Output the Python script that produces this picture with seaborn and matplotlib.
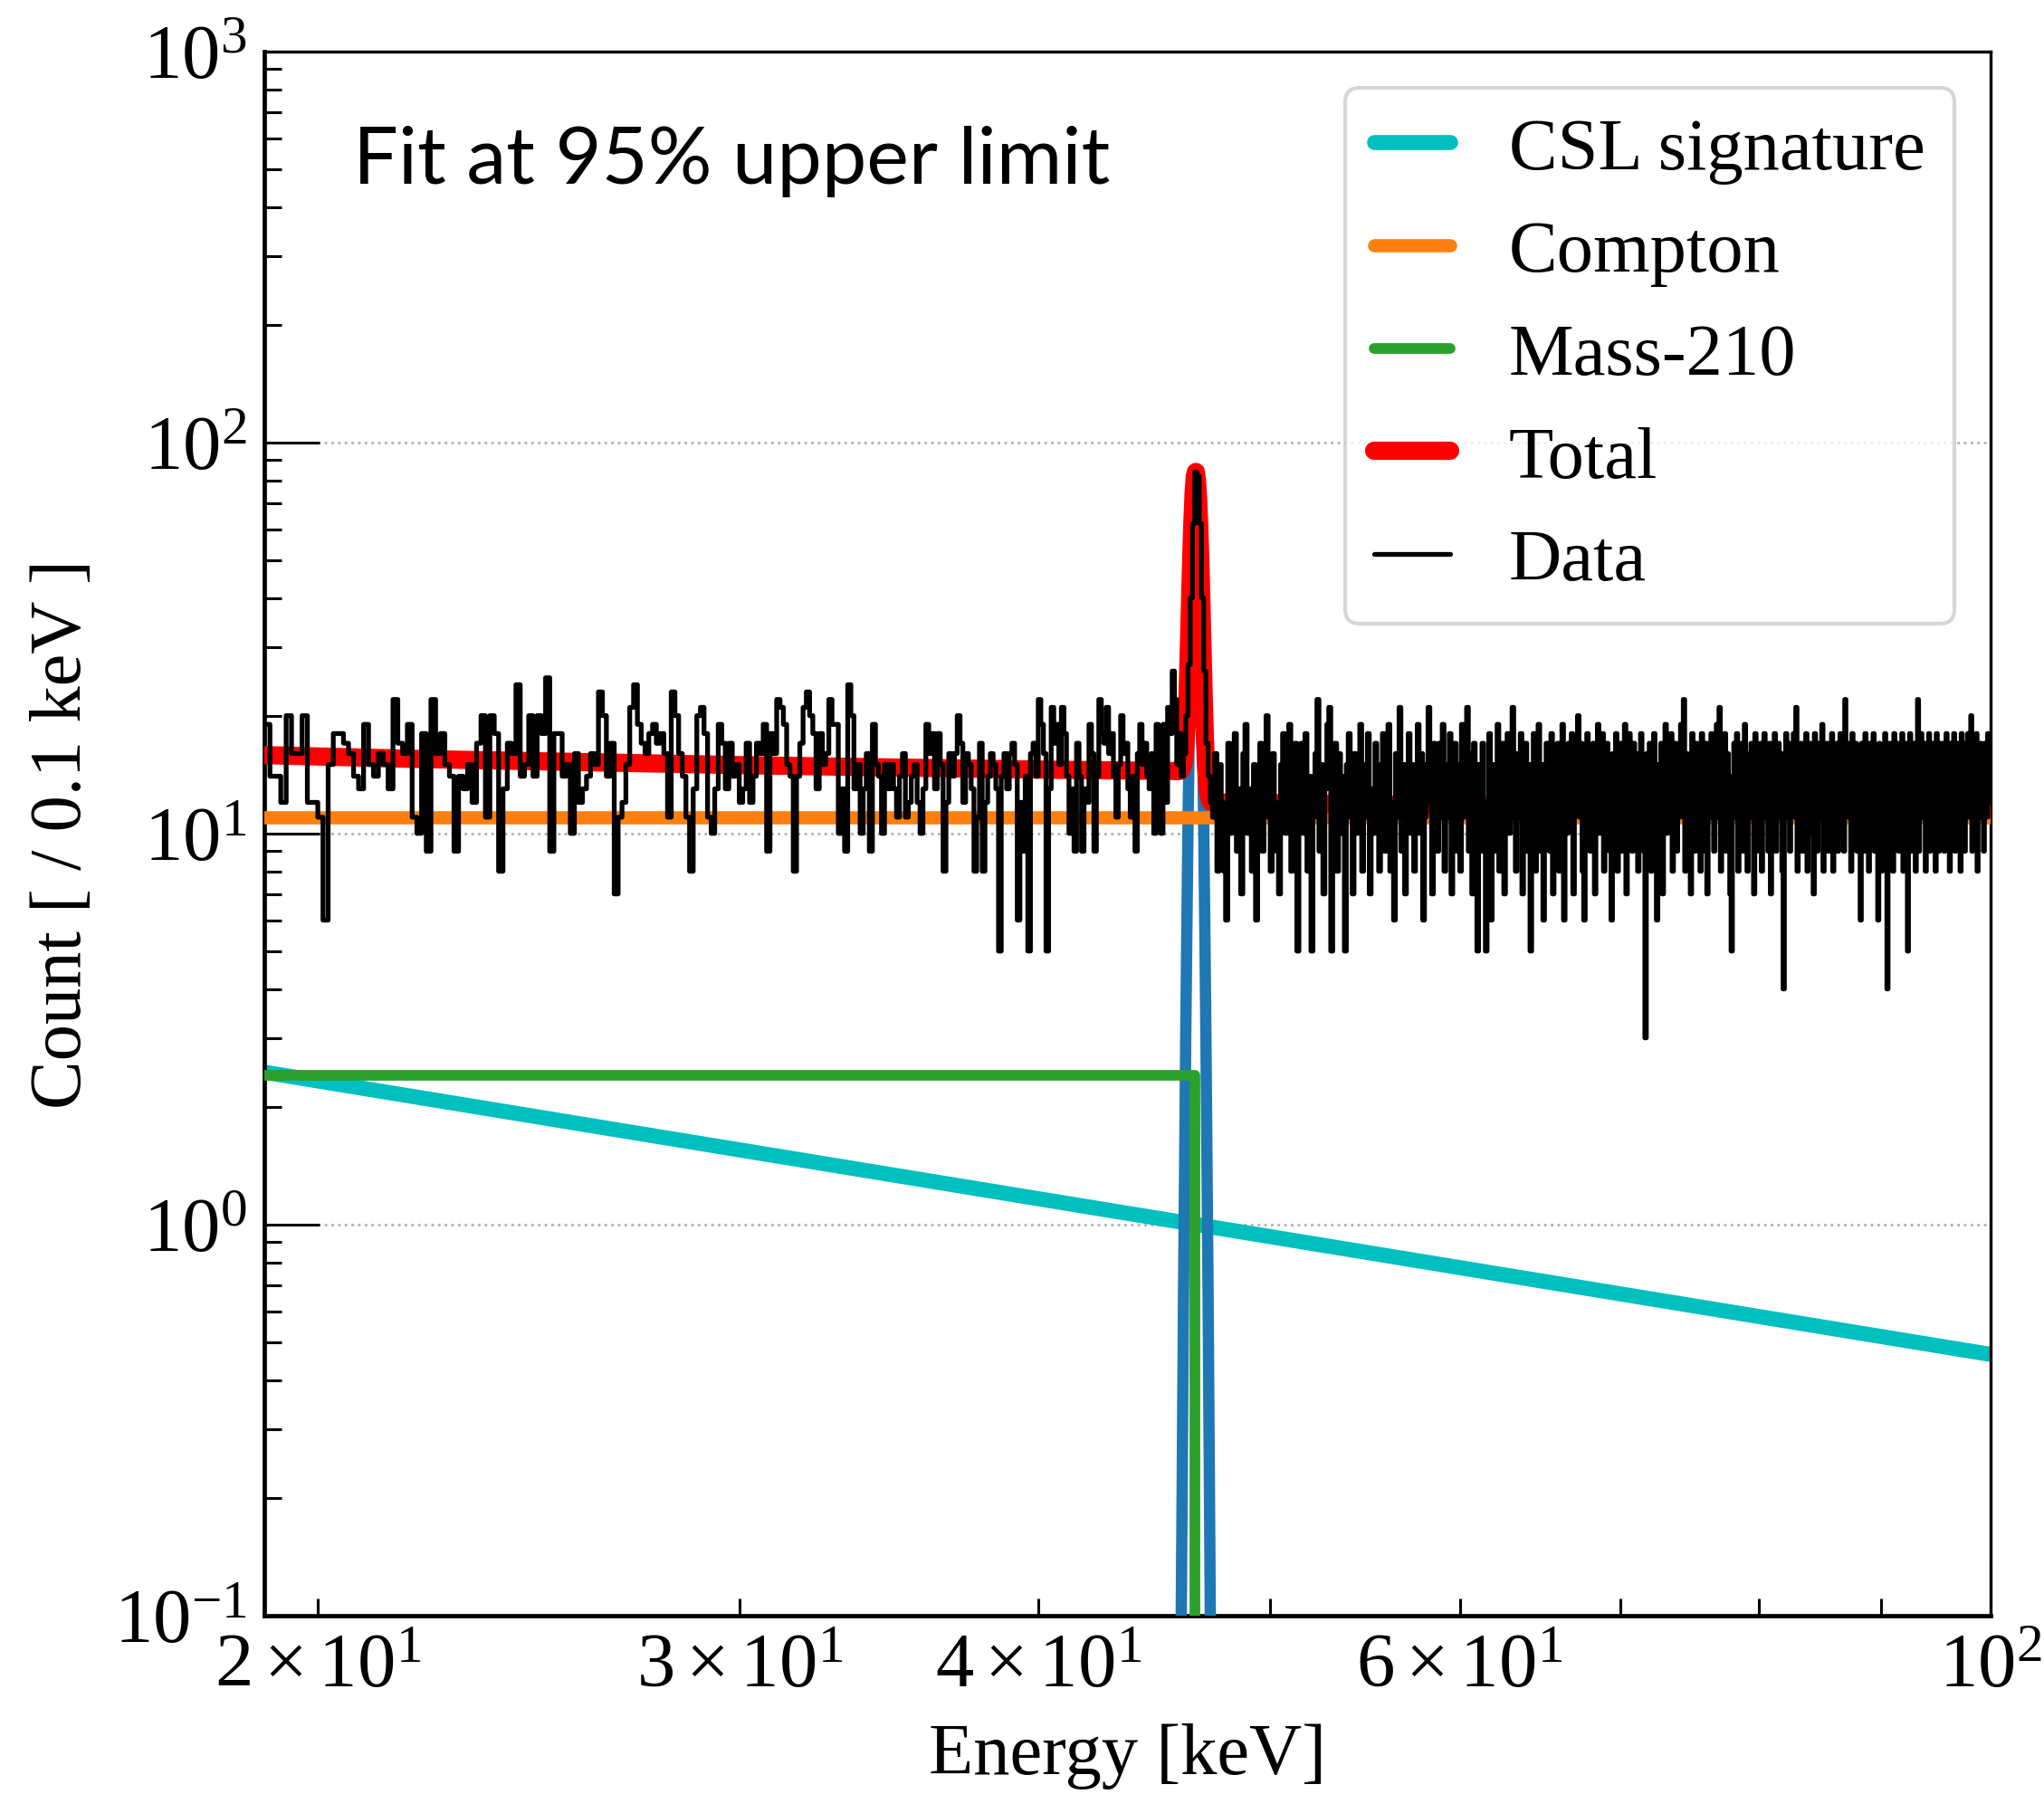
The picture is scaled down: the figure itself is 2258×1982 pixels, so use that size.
import numpy as np
import matplotlib
matplotlib.use("Agg")
import matplotlib.pyplot as plt
import seaborn as sns

# =========================
# DATA
# =========================

bin_start = 19.0   # keV, lower edge of first bin
bin_width = 0.1    # keV

# counts per 0.1 keV bin, split by energy range
counts_19_25 = [
    19, 14, 14, 12, 20, 16, 16, 20, 12, 12, 11, 6, 15, 18, 18, 17, 16, 14, 13, 19,
    15, 14, 16, 15, 13, 22, 17, 16, 19, 11, 10, 18, 9, 22, 16, 18, 15, 14, 9, 14,
    13, 15, 12, 17, 20, 11, 20, 18, 8, 13, 17, 16, 24, 14, 15, 20, 14, 20, 18, 25,
    9, 18,
]

counts_25_34 = [
    18, 14, 15, 10, 16, 12, 13, 14, 16, 15, 23, 20, 14, 17, 7, 11, 12, 15, 21, 24,
    19, 17, 16, 18, 19, 17, 18, 16, 11, 23, 20, 16, 14, 11, 8, 13, 20, 21, 18, 11,
    10, 13, 19, 17, 13, 17, 14, 15, 12, 13, 17, 12, 14, 17, 16, 19, 9, 18, 16, 22,
    21, 19, 15, 14, 8, 14, 17, 21, 23, 20, 18, 13, 18, 15, 16, 22, 19, 19, 10, 13,
    9, 24, 20, 13, 15, 10,
]

counts_34_46 = [
    13, 16, 9, 19, 15, 14, 10, 15, 13, 15, 13, 11, 14, 16, 11, 12, 14, 15, 12, 10,
    13, 19, 16, 18, 13, 18, 15, 8, 12, 16, 14, 16, 20, 17, 12, 16, 15, 13, 8, 11,
    17, 8, 12, 14, 16, 15, 13, 5, 14, 16, 13, 16, 17, 15, 6, 12, 9, 14, 5, 16,
    17, 14, 22, 19, 16, 5, 13, 21, 17, 19, 15, 21, 18, 14, 10, 13, 9, 17, 14, 9,
    13, 12, 19, 16, 9, 14, 22, 18, 17, 21, 16, 18, 14, 11, 15, 20, 16, 17, 13, 11,
    14, 9, 16, 19, 15, 17, 14, 13, 16, 10, 19, 15, 10, 19, 12, 21, 18, 26, 22,
]

counts_peak = [15, 18, 14, 16, 20, 27, 40, 62, 84, 82, 62, 40, 26, 17, 14, 12]

counts_47_100 = [
    11, 16, 8, 15, 12, 8, 6, 17, 10, 14, 18, 9, 13, 7, 16, 19, 10, 13, 8, 15,
    6, 14, 17, 9, 13, 20, 11, 8, 16, 12, 9, 7, 15, 18, 10, 13, 19, 8, 12, 17,
    5, 12, 17, 10, 18, 8, 14, 5, 11, 16, 22, 9, 15, 7, 13, 19, 21, 5, 11, 17,
    8, 16, 10, 14, 5, 15, 18, 11, 7, 16, 10, 14, 19, 8, 15, 11, 18, 7, 13, 10,
    17, 11, 8, 15, 18, 9, 13, 19, 8, 12, 6, 16, 11, 21, 9, 15, 7, 14, 18, 10,
    15, 8, 13, 19, 10, 16, 6, 11, 15, 21, 12, 7, 17, 13, 9, 17, 11, 19, 8, 15,
    11, 18, 7, 14, 17, 9, 15, 8, 19, 11, 13, 21, 9, 16, 7, 17, 12, 5, 15, 9,
    17, 12, 5, 11, 18, 6, 15, 9, 13, 19, 8, 12, 17, 7, 15, 18, 10, 14, 21, 11,
    8, 16, 11, 18, 7, 14, 17, 9, 15, 5, 12, 18, 8, 13, 19, 9, 15, 6, 11, 17,
    13, 9, 18, 7, 15, 11, 17, 8, 14, 19, 6, 16, 10, 17, 12, 18, 7, 14, 16, 20,
    11, 17, 8, 6, 15, 18, 12, 9, 13, 17, 7, 15, 19, 10, 14, 18, 8, 12, 17, 13,
    9, 6, 16, 11, 18, 8, 14, 17, 9, 15, 19, 7, 12, 18, 13, 9, 17, 11, 16, 8,
    14, 18, 11, 9, 3, 16, 12, 17, 8, 14, 18, 9, 6, 15, 11, 17, 7, 13, 19, 10,
    16, 11, 18, 8, 14, 17, 9, 15, 11, 19, 12, 22, 8, 16, 11, 15, 7, 18, 13, 9,
    17, 11, 15, 8, 18, 13, 9, 17, 7, 15, 11, 18, 13, 9, 16, 19, 11, 21, 8, 15,
    12, 18, 9, 16, 11, 7, 5, 14, 17, 11, 18, 8, 15, 12, 17, 9, 19, 13, 8, 16,
    11, 17, 13, 7, 18, 9, 15, 11, 17, 8, 14, 18, 11, 16, 9, 17, 7, 15, 12, 18,
    9, 14, 17, 11, 16, 8, 4, 14, 18, 11, 17, 9, 15, 12, 18, 11, 21, 8, 16, 13,
    17, 9, 15, 11, 18, 8, 14, 17, 10, 16, 7, 18, 12, 9, 17, 11, 15, 19, 8, 14,
    11, 17, 9, 16, 12, 18, 8, 15, 11, 17, 9, 14, 18, 10, 16, 9, 22, 12, 17, 11,
    16, 8, 18, 11, 14, 17, 9, 15, 11, 6, 17, 12, 9, 18, 11, 16, 8, 17, 13, 11,
    18, 9, 15, 11, 6, 17, 12, 8, 16, 11, 18, 9, 4, 14, 17, 11, 16, 8, 18, 12,
    11, 17, 9, 16, 12, 18, 8, 15, 11, 17, 5, 14, 18, 9, 16, 11, 17, 8, 14, 22,
    9, 16, 18, 11, 14, 17, 8, 15, 11, 18, 9, 14, 17, 11, 16, 8, 18, 12, 9, 17,
    12, 11, 17, 9, 16, 18, 11, 14, 8, 17, 13, 11, 18, 9, 14, 17, 11, 16, 8, 18,
    11, 16, 9, 17, 12, 18, 11, 15, 20, 9, 17, 12, 11, 18, 8, 16, 12, 17, 11, 15,
    9, 17, 12, 11, 18, 13, 12,
]

# fit components
csl_energy = [19.0, 100.0]
csl_count = [2.45, 0.465]

compton_energy = [19.0, 100.0]
compton_count = [11.0, 11.0]

mass210_energy = [19.0, 46.5, 46.5]
mass210_count = [2.4, 2.4, 0.01]

line_energy = [45.8, 45.9, 46.0, 46.1, 46.15, 46.2, 46.25, 46.3, 46.35, 46.4,
               46.45, 46.5, 46.55, 46.6, 46.65, 46.7, 46.75, 46.8, 46.85, 46.9,
               46.95, 47.0, 47.1, 47.2, 47.3]
line_count = [0.012, 0.10, 0.66, 3.1, 5.9, 10.6, 17.5, 26.7, 37.8, 49.5,
              60.0, 67.4, 70.0, 67.4, 60.0, 49.5, 37.8, 26.7, 17.5, 10.6,
              5.9, 3.1, 0.66, 0.10, 0.012]

total_energy = [19.0, 22.0, 26.0, 30.0, 35.0, 40.0, 45.8, 45.9, 46.0, 46.1,
                46.15, 46.2, 46.25, 46.3, 46.35, 46.4, 46.45, 46.5, 46.55, 46.6,
                46.65, 46.7, 46.75, 46.8, 46.85, 46.9, 46.95, 47.0, 47.1, 47.2,
                47.3, 55.0, 65.0, 80.0, 100.0]
total_count = [15.85, 15.5, 15.2, 14.95, 14.73, 14.56, 14.43, 14.5, 15.1, 17.5,
               20.3, 25.0, 31.9, 41.1, 52.2, 63.9, 74.4, 81.8, 84.0, 80.0,
               72.0, 61.5, 49.8, 38.7, 29.5, 22.6, 17.9, 15.1, 12.7, 12.1,
               12.0, 11.85, 11.72, 11.58, 11.47]

counts = np.array(counts_19_25 + counts_25_34 + counts_34_46 + counts_peak + counts_47_100)
edges = bin_start + bin_width * np.arange(len(counts) + 1)

# =========================
# STYLE
# =========================

sns.set_theme(style="ticks")
plt.rcParams["font.family"] = "serif"
plt.rcParams["font.serif"] = ["Liberation Serif", "DejaVu Serif"]
plt.rcParams["mathtext.fontset"] = "stix"
plt.rcParams["text.color"] = "black"
plt.rcParams["axes.labelcolor"] = "black"

FS = 58        # labels / legend
TICK_FS = 61   # tick labels

fig = plt.figure(figsize=(22.58, 19.83), dpi=100)
ax = fig.add_axes([0.1294, 0.0995, 0.8445, 0.8714])
ax.set_xscale("log")
ax.set_yscale("log")

# =========================
# PLOT
# =========================

sns.lineplot(x=csl_energy, y=csl_count, color="#00bfbf", lw=12,
             label="CSL signature", estimator=None, sort=False, ax=ax, zorder=2)

sns.lineplot(x=line_energy, y=line_count, color="#1f77b4", lw=9,
             estimator=None, sort=False, ax=ax, zorder=3)

sns.lineplot(x=mass210_energy, y=mass210_count, color="#2ca02c", lw=8.5,
             label="Mass-210", estimator=None, sort=False, ax=ax, zorder=4)

sns.lineplot(x=compton_energy, y=compton_count, color="#ff7f0e", lw=10.5,
             label="Compton", estimator=None, sort=False, ax=ax, zorder=5)

sns.lineplot(x=total_energy, y=total_count, color="red", lw=14.5,
             label="Total", estimator=None, sort=False, ax=ax, zorder=6)

sns.lineplot(x=edges, y=np.append(counts, counts[-1]), color="black", lw=3.8,
             drawstyle="steps-post", label="Data", estimator=None, sort=False,
             ax=ax, zorder=7)

ax.set_xlim(19.0, 100.0)
ax.set_ylim(0.1, 1000)

# axes, ticks, grid
ax.tick_params(which="both", direction="in", top=False, right=False,
               labelsize=TICK_FS, pad=14, color="black", labelcolor="black")
ax.tick_params(which="major", length=44, width=2.2)
ax.tick_params(which="minor", length=14, width=2.2)
ax.yaxis.grid(True, which="major", ls=":", color="#b0b0b0", lw=2)
ax.xaxis.grid(False)

for side in ["left", "bottom"]:
    ax.spines[side].set_linewidth(3.4)
    ax.spines[side].set_color("black")
for side in ["top", "right"]:
    ax.spines[side].set_linewidth(2.4)
    ax.spines[side].set_color("black")

ax.set_xlabel("Energy [keV]", fontsize=FS, labelpad=16)
ax.set_ylabel("Count [ / 0.1 keV ]", fontsize=FS, labelpad=14)

# legend
handles, labels = ax.get_legend_handles_labels()
order = ["CSL signature", "Compton", "Mass-210", "Total", "Data"]
lookup = dict(zip(labels, handles))
leg = ax.legend([lookup[k] for k in order], order, loc="upper right",
                fontsize=FS, frameon=True, fancybox=True, framealpha=0.8,
                edgecolor="#cccccc", handlelength=1.05, handletextpad=0.8,
                labelspacing=0.5, borderpad=0.4, borderaxespad=0.5)
leg.get_frame().set_linewidth(3)

ax.text(0.0515, 0.9159, "Fit at 95% upper limit", transform=ax.transAxes,
        fontsize=63.5, family="Lato", va="baseline", color="black")

fig.savefig("out.png", dpi=100)
